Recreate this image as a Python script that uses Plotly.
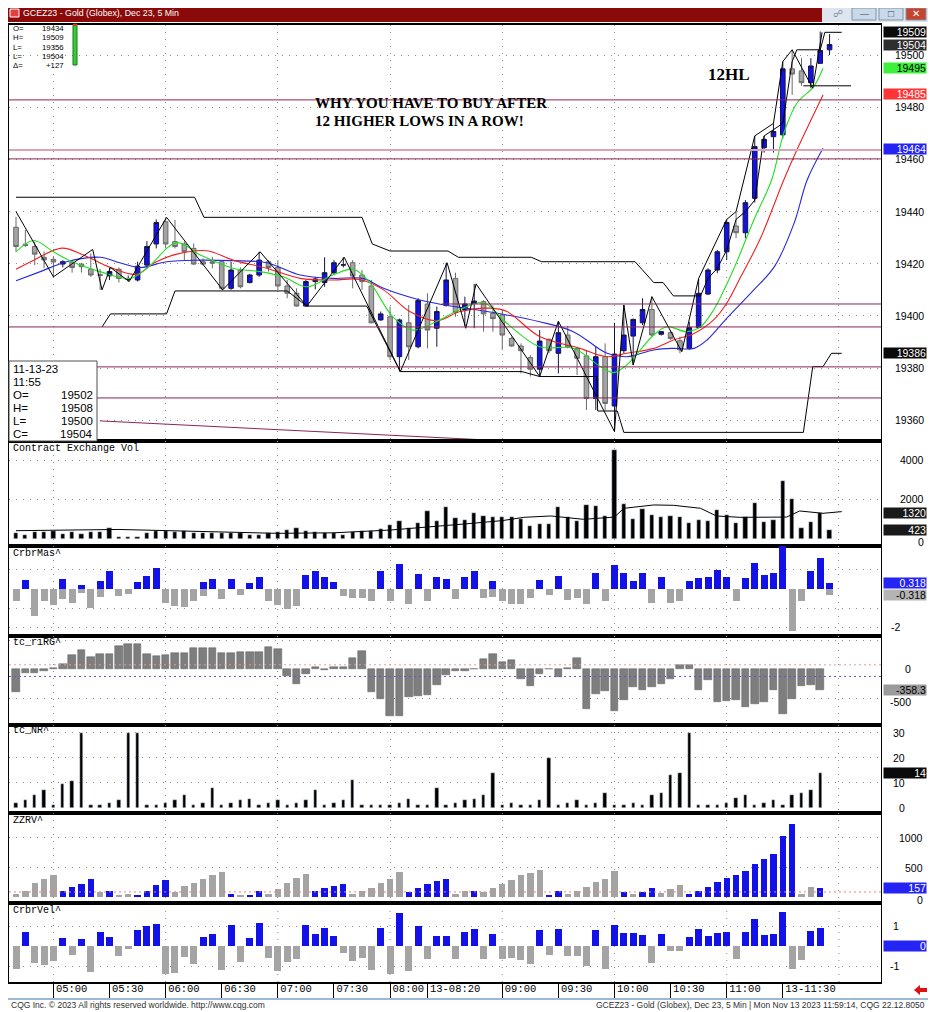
import plotly.graph_objects as go
from plotly.subplots import make_subplots

# GCEZ23 5 min bars, 13 Nov 2023, 04:40 .. 11:55
bar_open = [19434, 19427.5, 19426.6, 19422.5, 19421.7, 19419.9, 19420.6, 19419.9, 19417.9, 19415.8,
            19415.4, 19417.9, 19414, 19413.8, 19419.5, 19427.6, 19436.1, 19428.5, 19427.6, 19425.9,
            19420.8, 19420.8, 19420.8, 19410.6, 19417.6, 19412.8, 19415.7, 19420.8, 19418.6, 19411.5,
            19408.7, 19403.8, 19413.2, 19412.8, 19416.6, 19419.5, 19420.4, 19415.7, 19411.5, 19398.5,
            19399.7, 19384.4, 19397.4, 19388.2, 19404.6, 19395.3, 19404, 19414.4, 19402.3, 19404.8,
            19405.5, 19401, 19400.4, 19391.4, 19388.5, 19384.1, 19379.6, 19391.1, 19385.7, 19392.7,
            19387.6, 19384.7, 19368.4, 19384.4, 19365.5, 19386.7, 19392.3, 19397.4, 19402.5, 19393,
            19393.6, 19390.5, 19387.6, 19395.6, 19408.4, 19417.6, 19424.6, 19434.5, 19431.9, 19445.1,
            19464.5, 19468.7, 19469.4, 19494.7, 19493.9, 19489.4, 19496.8, 19502]
bar_high = [19438, 19433, 19428.5, 19424.7, 19422.7, 19421.4, 19421.4, 19420.4, 19424, 19418,
            19418.6, 19418.6, 19415.5, 19420.8, 19428.7, 19437, 19437.8, 19436.8, 19428.5, 19427.8,
            19422.1, 19422.7, 19421.4, 19420.8, 19418.6, 19416.2, 19424.6, 19421.4, 19421.4, 19413.8,
            19410.6, 19413.8, 19415, 19422.5, 19421.4, 19422.5, 19421.4, 19417.6, 19413.8, 19401.7,
            19403.6, 19399, 19404.2, 19406.8, 19408.7, 19403.6, 19420.4, 19416.6, 19407.4, 19412.3,
            19406.1, 19404, 19402.3, 19392.1, 19389.5, 19385, 19394.6, 19391.4, 19398, 19396.2,
            19388.2, 19387, 19388.2, 19389.5, 19397.4, 19404.2, 19399, 19406.8, 19407.4, 19394.2,
            19394.6, 19392.1, 19397.8, 19414.4, 19418.3, 19425.3, 19437, 19440, 19444.4, 19469,
            19469, 19473.8, 19497.5, 19502, 19498.8, 19498.8, 19509, 19508]
bar_low = [19424.6, 19426.5, 19419.5, 19418.3, 19415, 19418.6, 19416.6, 19416.6, 19415, 19410,
           19413.8, 19412.8, 19413.2, 19413.2, 19418.3, 19425.9, 19425.9, 19425.9, 19421.4, 19419.5,
           19419.5, 19418.3, 19410, 19410, 19410.6, 19412.5, 19415, 19417, 19410, 19406.8,
           19403.6, 19403.6, 19410.2, 19411.2, 19415.7, 19418.6, 19410.6, 19410, 19397.2, 19398.2,
           19383.1, 19378.7, 19383.1, 19387.6, 19387.6, 19388.2, 19403.6, 19399.7, 19396, 19395.3,
           19394, 19394, 19387, 19388.2, 19378, 19376.8, 19376.8, 19385.7, 19378, 19387.6,
           19377.4, 19364, 19364, 19364, 19355.7, 19385.7, 19381.2, 19396.5, 19392.1, 19392.5,
           19390.8, 19385.7, 19387, 19395.3, 19408, 19416.4, 19421.4, 19429.8, 19429.8, 19443.5,
           19462.6, 19462.6, 19468, 19484.7, 19488.2, 19487.3, 19496.8, 19500]
bar_close = [19426.6, 19427, 19423.7, 19421.5, 19420.7, 19420.8, 19418.6, 19418.9, 19415.7, 19415.6,
             19417, 19414.4, 19414.2, 19419.1, 19426.6, 19435.8, 19427.6, 19426.6, 19424.6, 19419.9,
             19419.9, 19420.2, 19410.6, 19417.6, 19411.2, 19415.7, 19421.4, 19418.6, 19411.5, 19408.7,
             19403.8, 19413.2, 19414.2, 19416.6, 19420.4, 19419.6, 19415.3, 19413.2, 19397.4, 19400.8,
             19384.4, 19398.5, 19388.2, 19405.9, 19394.6, 19401.7, 19413.8, 19401.3, 19404.6, 19405.7,
             19400.8, 19399, 19392.7, 19388.5, 19386.7, 19379.6, 19390.4, 19386.7, 19393.6, 19388.2,
             19383.8, 19368.4, 19384.4, 19366.5, 19385.4, 19392.7, 19398.7, 19402.5, 19392.7, 19394,
             19391.4, 19387, 19395.6, 19408.7, 19417.6, 19424.6, 19435.8, 19431.9, 19443.4, 19464.9,
             19467.7, 19470.7, 19494.7, 19492.7, 19489.4, 19495.8, 19501.7, 19504]
bars = list(range(len(bar_open)))

# moving averages, sampled (bar position, value)
ma_green_x = [0, 1.9, 4, 6, 9, 12.2, 14, 17.2, 19.7, 23.2, 26.1, 28.6, 31.1, 33.9, 36.1, 37.9, 40.3,
              42.5, 44.9, 47.5, 50, 52.5, 56, 59.6, 62.5, 63.9, 65.3, 68.2, 69.6, 71.7, 73.2, 74.6,
              76.7, 78.9, 80.8, 82.1, 83.5, 85.3, 86.3]
ma_green = [19424.6, 19428.9, 19424.6, 19420.8, 19417, 19414.4, 19418.3, 19428.1, 19423.4, 19418.3,
            19417, 19415, 19411.2, 19415.7, 19417.9, 19412.5, 19399.7, 19394.6, 19397.8, 19402.5,
            19405.1, 19397.2, 19388.2, 19387.6, 19380.6, 19378.3, 19381.2, 19392.7, 19395.9, 19394,
            19395.9, 19402.3, 19417.6, 19436.8, 19452.1, 19470, 19481.5, 19487.9, 19494.9]
ma_red_x = [0, 1.9, 4.9, 7.2, 10.1, 12.9, 14.7, 17.2, 20.4, 23.2, 26.8, 30.4, 33.9, 36.8, 39.3, 42.1,
            45, 47.5, 50.7, 52.5, 56, 60.3, 63.2, 65.3, 68.2, 70.3, 72.5, 74.6, 76, 77.5, 79.6, 82.1,
            83.5, 86.3]
ma_red = [19417.9, 19421.4, 19426, 19423.4, 19418.6, 19416, 19420.2, 19423.7, 19425, 19421.4, 19418.3,
          19414.4, 19413.8, 19414, 19410, 19401.7, 19398.2, 19401.7, 19403, 19401.7, 19392.1, 19387.6,
          19384.4, 19385.7, 19387.6, 19390.8, 19393.3, 19398.5, 19404.9, 19415, 19429.7, 19452.1,
          19463.6, 19484.7]
ma_blue_x = [0, 2.6, 5.4, 9, 11.1, 13.3, 16.1, 19.7, 23.2, 26.8, 30.4, 33.9, 37.1, 39.3, 42.9, 45.5,
             48.8, 52.5, 56, 59.6, 63.2, 65.3, 68.2, 70.3, 72.5, 73.9, 76, 78.9, 81.1, 83.2, 84.6, 86.3]
ma_blue = [19413.5, 19417, 19420.8, 19422.5, 19420.4, 19418.6, 19420.8, 19421.4, 19421.2, 19420.4,
           19415.7, 19414.4, 19414.4, 19410.6, 19406.4, 19404.4, 19402.6, 19400.4, 19397.8, 19394,
           19385.7, 19384.4, 19387, 19387.6, 19387.6, 19390.8, 19399.1, 19410, 19418.9, 19435.5,
           19452.1, 19464.3]

# channel + swing lines
chan_up_x = [0, 19.1, 20.1, 37, 38.1, 40, 46.2, 47.3, 55.1, 56.2, 66.2, 68.2, 69.2, 70.3, 73.2, 74, 75,
             76, 77, 78, 79, 80, 82, 83, 83.5, 86, 86.5, 88.3]
chan_up = [19445.5, 19445.5, 19437.8, 19437.8, 19427.6, 19424.9, 19424.9, 19422.5, 19422.5, 19420.8,
           19420.8, 19412.8, 19412.8, 19407.7, 19407.7, 19414.4, 19418.3, 19425.3, 19437, 19440,
           19444.4, 19469, 19473.8, 19497.5, 19502, 19502, 19508.7, 19508.7]
chan_dn_x = [9.2, 10.1, 16.1, 17, 29, 31.1, 37.5, 41.1, 54.1, 56, 62.1, 62.2, 64.3, 65, 84.2, 85.2,
             86.3, 87.2, 88.3]
chan_dn = [19395.8, 19400.8, 19400.8, 19409.6, 19409.6, 19403.8, 19403.8, 19378.7, 19378.7, 19376.8,
           19376.8, 19363.6, 19363.6, 19355.4, 19355.4, 19380.6, 19380.6, 19385.7, 19385.7]
swing_x = [0, 4, 8.2, 9.2, 10.1, 12.1, 16.1, 22.1, 26.1, 31.1, 35.1, 41.1, 46.1, 48.1, 49.2, 56, 58,
           64, 65, 66, 68, 71.2, 73, 76, 77, 79, 81, 82, 83, 85.2, 86.2]
swing = [19440, 19415, 19425.5, 19410, 19418.6, 19413.2, 19437.8, 19410, 19424.6, 19403.8, 19422.5,
         19378.7, 19420.4, 19395.3, 19412.3, 19376.8, 19398, 19355.7, 19404.2, 19381.2, 19407.4,
         19386.3, 19414.4, 19437, 19440, 19469, 19473.8, 19497.5, 19502, 19487.3, 19508.7]
box_low_x = [84.2, 89.3]
box_low = [19488.2, 19488.2]
trend_x = [9, 52]
trend = [19359.8, 19352.2]
levels = [19482.8, 19460.2, 19395.8, 19380.5, 19368.6]
level_late = 19404.6
level_pink = 19463.6

volume = [272, 190, 360, 360, 410, 230, 360, 220, 360, 360,
          520, 100, 100, 100, 300, 400, 400, 330, 400, 270,
          300, 280, 300, 270, 270, 190, 190, 270, 360, 450,
          530, 410, 360, 270, 270, 190, 360, 410, 410, 480,
          700, 900, 530, 780, 1410, 900, 1590, 1040, 950, 1290,
          1160, 1090, 1090, 1090, 1000, 650, 750, 750, 1630, 1090,
          920, 1730, 1670, 1160, 4490, 1770, 990, 1510, 1210, 1120,
          1160, 1090, 820, 950, 900, 1460, 1210, 820, 1090, 1840,
          870, 950, 2960, 2020, 530, 870, 1290, 423]
vol_ma_x = [0, 11, 28, 34, 40, 44.6, 48, 52, 54.3, 57.2, 60.7, 64, 65, 68.2, 70.3, 73.2, 74.9, 77.4,
            81, 82.4, 83.8, 86.3, 88.3]
vol_ma = [408, 470, 272, 300, 440, 600, 750, 920, 1088, 1156, 986, 1100, 1547, 1717, 1700, 1547, 1156,
          1088, 1088, 1100, 1411, 1292, 1377]

mas_up = [0, .47, 0, 0, 0, .52, 0, .21, 0, .42,
          .92, 0, 0, .35, .7, 1.1, 0, 0, 0, 0,
          .38, .52, 0, .52, 0, .3, .64, 0, 0, 0,
          0, .73, .94, .63, .35, 0, 0, 0, 0, .96,
          0, 1.29, 0, .77, 0, .61, .5, 0, .64, .94,
          0, .42, 0, 0, 0, 0, .47, 0, .68, 0,
          0, 0, .82, 0, 1.25, .85, .42, .82, 0, .63,
          0, 0, .42, .59, .64, .99, .63, 0, .59, 1.34,
          .73, .82, 2.3, 0, 0, .94, 1.6, .318]
mas_dn = [-.6, 0, -1.43, -.62, -.83, -.52, -.73, -.19, -1.0, -.4,
          0, -.38, -.26, 0, 0, 0, -.73, -.87, -.94, -.63,
          -.38, 0, -.5, 0, -.3, 0, 0, -.61, -.85, -1.05,
          -.87, 0, 0, 0, 0, -.38, -.45, -.45, -.63, 0,
          -.63, 0, -.8, 0, -.61, 0, 0, -.5, 0, 0,
          -.49, -.4, -.61, -.78, -.8, -.49, 0, -.31, 0, -.57,
          -.45, -.78, 0, -.61, 0, 0, 0, 0, -.75, 0,
          -.75, -.61, 0, 0, 0, 0, 0, -.61, 0, 0,
          0, 0, 0, -2.17, -.61, 0, 0, -.318]

rirg = [-385, -58, -58, -29, 29, 86, 242, 334, 219, 259,
        270, 403, 431, 431, 270, 230, 242, 288, 276, 362,
        362, 362, 276, 276, 305, 305, 305, 391, 357, -115,
        -247, -86, 46, -12, 46, 46, 190, 316, -391, -506,
        -805, -794, -477, -460, -431, -270, -90, -25, -25, 12,
        184, 270, 132, 167, -161, -288, -69, 6, -132, 29,
        201, -679, -420, -374, -719, -529, -300, -357, -305, -250,
        -170, 69, 75, -345, -173, -564, -546, -529, -644, -587,
        -564, -357, -765, -506, -276, -270, -358.3, None]

narrow_range = [2, 3, 5, 7, 1, 9.5, 10.7, 30, 1, 1,
                2, 3, 30, 30, 1, 1, 2, 3, 5, 1,
                2, 8, 1, 2, 3, 3.5, 1, 2, 3, 1,
                2, 3, 7, 1, 2, 3, 11, 1, 1, 1,
                1, 2, 3.5, 1, 1, 8, 1, 2, 3, 3.5,
                5, 14, 1, 2, 1, 1, 3, 20, 1, 2,
                3, 1, 2, 6, 1, 1, 2, 1, 5, 6,
                13, 14, 30, 1, 1, 1, 2, 4, 5, 1,
                2, 3, 1, 5, 6, 7, 14, None]

zzrv = [62, 100, 246, 302, 381, 106, 174, 230, 314, 90,
        100, 45, 62, 45, 106, 213, 286, 90, 190, 246,
        314, 370, 420, 56, 45, 45, 100, 62, 134, 246,
        325, 392, 100, 157, 190, 230, 56, 100, 157, 246,
        302, 426, 90, 157, 218, 280, 314, 56, 100, 100,
        90, 162, 224, 286, 370, 414, 454, 39, 100, 62,
        100, 174, 258, 314, 437, 90, 56, 90, 151, 73,
        134, 202, 56, 100, 168, 258, 325, 381, 442, 566,
        638, 722, 1030, 1238, 62, 168, 157, None]
zzrv_up = [0, 0, 0, 0, 0, 1, 1, 1, 1, 0,
           1, 0, 0, 1, 1, 1, 1, 0, 0, 0,
           0, 0, 0, 1, 0, 1, 1, 0, 0, 0,
           0, 0, 1, 1, 1, 1, 0, 0, 0, 0,
           0, 0, 1, 1, 1, 1, 1, 0, 0, 1,
           0, 0, 0, 0, 0, 0, 0, 1, 1, 0,
           0, 0, 0, 0, 0, 1, 0, 1, 1, 0,
           0, 0, 1, 1, 1, 1, 1, 1, 1, 1,
           1, 1, 1, 1, 0, 0, 1, 0]

velocity = [-1.13, 0.7, -0.85, -0.93, -0.77, 0.4, -0.47, 0.37, -1.3, 0.7,
            0.45, -0.5, -0.17, 0.82, 1.0, 1.1, -1.38, -1.35, -0.55, -0.88,
            0.45, 0.62, -1.22, 1.03, -0.8, 0.42, 1.15, -0.58, -1.25, -0.8,
            -0.67, 1.03, 0.6, 0.9, 0.5, -0.33, -0.75, -0.6, -1.18, 0.92,
            -1.42, 1.65, -1.27, 1.02, -0.67, 0.5, 0.5, -0.67, 0.7, 0.83,
            -0.67, 0.58, -0.67, -0.58, -0.72, -0.88, 0.82, -0.47, 0.85, -0.52,
            -0.5, -0.98, 0.82, -1.17, 1.03, 0.65, 0.65, 0.53, -0.83, 0.58,
            -0.27, -0.25, 0.43, 0.85, 0.5, 0.65, 0.72, -0.63, 0.72, 1.37,
            0.55, 0.6, 1.7, -1.13, -0.68, 0.75, 0.92, 0]

time_ticks = [4, 10, 16, 22, 28, 34, 40, 44, 52, 58, 64, 70, 76, 82]
time_labels = ["05:00", "05:30", "06:00", "06:30", "07:00", "07:30", "08:00", "13-08:20",
               "09:00", "09:30", "10:00", "10:30", "11:00", "13-11:30"]
hour_bars = [4, 16, 28, 40, 52, 64, 76, 88]

BLUE = "#1212E8"
GRAY = "#A4A4A4"
MAROON = "#8A2454"
GRID = "#8C8C8C"
DOTS = "1px,6px"
SANS = "Liberation Sans"
MONO = "Liberation Mono"

fig = make_subplots(rows=7, cols=1, shared_xaxes=True, vertical_spacing=0,
                    row_heights=[416, 105, 90, 89, 88, 90, 79])

fig.add_trace(go.Candlestick(x=bars, open=bar_open, high=bar_high, low=bar_low, close=bar_close,
                             increasing=dict(fillcolor=BLUE, line=dict(color="#151540", width=1)),
                             decreasing=dict(fillcolor=GRAY, line=dict(color="#6A6A6A", width=1)),
                             whiskerwidth=0, hoverinfo="skip"), row=1, col=1)
for xs, ys, col in [(ma_blue_x, ma_blue, "#2828E0"), (ma_red_x, ma_red, "#F02020"),
                    (ma_green_x, ma_green, "#20E020")]:
    fig.add_trace(go.Scatter(x=xs, y=ys, mode="lines", line=dict(color=col, width=1.1, shape="spline"),
                             hoverinfo="skip"), row=1, col=1)
for xs, ys in [(chan_up_x, chan_up), (chan_dn_x, chan_dn), (swing_x, swing), (box_low_x, box_low)]:
    fig.add_trace(go.Scatter(x=xs, y=ys, mode="lines", line=dict(color="black", width=1),
                             hoverinfo="skip"), row=1, col=1)
fig.add_trace(go.Scatter(x=trend_x, y=trend, mode="lines", line=dict(color=MAROON, width=1),
                         hoverinfo="skip"), row=1, col=1)

# volume
fig.add_trace(go.Bar(x=bars, y=volume, marker_color="black", width=0.45), row=2, col=1)
fig.add_trace(go.Scatter(x=vol_ma_x, y=vol_ma, mode="lines", line=dict(color="black", width=1),
                         hoverinfo="skip"), row=2, col=1)
# CrbrMas
fig.add_trace(go.Bar(x=bars, y=mas_dn, marker=dict(color=GRAY, line=dict(width=0)), width=0.75), row=3, col=1)
fig.add_trace(go.Bar(x=bars, y=mas_up, marker=dict(color=BLUE, line=dict(width=0)), width=0.75), row=3, col=1)
# tc_riRG
fig.add_trace(go.Bar(x=bars, y=rirg, marker=dict(color="#7E7E7E", line=dict(color="#5A5A5A", width=0.5)),
                     width=0.8), row=4, col=1)
# tc_NR
fig.add_trace(go.Bar(x=bars, y=narrow_range, marker_color="black", width=0.36), row=5, col=1)
# ZZRV
fig.add_trace(go.Bar(x=bars, y=zzrv, marker=dict(color=[BLUE if u else GRAY for u in zzrv_up],
                                                 line=dict(width=0)), width=0.68), row=6, col=1)
# CrbrVel
fig.add_trace(go.Bar(x=bars, y=velocity, marker=dict(color=[BLUE if v > 0 else GRAY for v in velocity],
                                                     line=dict(width=0)), width=0.75), row=7, col=1)

panels = [  # range, grid values, tick labels, label right edge (px)
    ([19352.1, 19511.5], [19360, 19380, 19400, 19420, 19440, 19460, 19480, 19500],
     [19360, 19380, 19400, 19420, 19440, 19460, 19480, 19500], 926),
    ([-372, 4973], [2000, 4000], [0, 2000, 4000], 926),
    ([-2.45, 2.24], [-2, -1, 1], [-2], 902),
    ([-955, 576], [500, -500], [0, -500], 913),
    ([-2.1, 33.1], [10, 20, 30], [0, 10, 20, 30], 907),
    ([-96, 1416], [500, 1000], [0, 500, 1000], 925),
    ([-1.8, 2.15], [-1, 1], [-1, 1], 901),
]
label_nudge = {(2, 0): -3, (4, -500): -3, (6, 0): -3}

# the page puts the figure 8 px in from the window corner; positions below are window pixels


def px(x):
    return (x - 9) / 872


def py(y):
    return (982 - y) / 957


annotations = []
for r, (rng, grid, labels, right) in enumerate(panels, start=1):
    fig.update_yaxes(range=rng, tickmode="array", tickvals=grid, showticklabels=False, ticks="",
                     showgrid=True, gridcolor=GRID, griddash=DOTS, gridwidth=1, zeroline=False,
                     showline=True, mirror=True, linecolor="black", linewidth=1, side="right",
                     fixedrange=True, row=r, col=1)
    yref = "y" if r == 1 else "y%d" % r
    for v in labels:
        annotations.append(dict(xref="paper", x=px(right), xanchor="right", yref=yref, y=v,
                                yanchor="middle", text="%g" % v, showarrow=False,
                                yshift=label_nudge.get((r, v), 0),
                                font=dict(family=SANS, size=10.5, color="black")))

for r in range(1, 7):
    fig.update_xaxes(range=[-0.75, 92.5], tickmode="array", tickvals=hour_bars, showticklabels=False,
                     ticks="", showgrid=True, gridcolor=GRID, griddash=DOTS, zeroline=False,
                     showline=True, mirror=True, linecolor="black", linewidth=1.5, row=r, col=1)
fig.update_xaxes(range=[-0.75, 92.5], tickmode="array", tickvals=time_ticks, ticktext=time_labels,
                 ticks="outside", ticklen=14, tickwidth=1, tickcolor="black", tickangle=0,
                 ticklabelposition="outside right", ticklabelstandoff=-5, ticklabelshift=1,
                 tickfont=dict(family=MONO, size=10.5, color="black"), showgrid=False, zeroline=False,
                 showline=True, mirror=True, linecolor="black", linewidth=2, row=7, col=1)

shapes = []
for h in hour_bars:
    shapes.append(dict(type="line", xref="x7", yref="y7 domain", x0=h, x1=h, y0=0, y1=1,
                       line=dict(color=GRID, width=1, dash=DOTS), layer="below"))
for lv in levels:
    shapes.append(dict(type="line", xref="x domain", yref="y", x0=0, x1=1, y0=lv, y1=lv,
                       line=dict(color=MAROON, width=1)))
shapes.append(dict(type="line", xref="x domain", yref="y", x0=0, x1=1, y0=level_pink, y1=level_pink,
                   line=dict(color="#D7A4B8", width=2)))
shapes.append(dict(type="line", xref="x", yref="y", x0=45.5, x1=92.5, y0=level_late, y1=level_late,
                   line=dict(color=MAROON, width=1)))
shapes.append(dict(type="line", xref="x4 domain", yref="y4", x0=0, x1=1, y0=80, y1=80,
                   line=dict(color="#E89A9A", width=1, dash="2px,3px")))
shapes.append(dict(type="line", xref="x4 domain", yref="y4", x0=0, x1=1, y0=-120, y1=-120,
                   line=dict(color="#5A5AD0", width=1, dash="2px,3px")))
shapes.append(dict(type="line", xref="x6 domain", yref="y6", x0=0, x1=1, y0=90, y1=90,
                   line=dict(color="#F08080", width=1, dash="2px,3px")))

# window chrome
chrome = [
    (0, 0, 936, 5, "#D6E2EE"), (0, 0, 8, 1012, "#C9D7E6"), (928, 0, 936, 1000, "#BCD4EC"),
    (822, 5, 928, 22, "#DDE6EF"), (8, 5, 822, 22, "#8A0A0A"),
    (0, 998, 936, 1000, "#9DB9D6"),
]
for x0, y0, x1, y1, col in chrome:
    shapes.append(dict(type="rect", xref="paper", yref="paper", x0=px(x0), x1=px(x1), y0=py(y0), y1=py(y1),
                       fillcolor=col, line=dict(width=0), layer="above"))
for x0, x1, col in [(852, 876, "#C9D9EA"), (879, 903, "#C9D9EA"), (906, 926, "#C8432E")]:
    shapes.append(dict(type="rect", xref="paper", yref="paper", x0=px(x0), x1=px(x1), y0=py(8), y1=py(20),
                       fillcolor=col, line=dict(color="#7F93AA", width=1), layer="above"))
shapes.append(dict(type="rect", xref="paper", yref="paper", x0=px(10), x1=px(19), y0=py(9), y1=py(17),
                   fillcolor="#E04040", line=dict(color="white", width=1), layer="above"))
shapes.append(dict(type="rect", xref="paper", yref="paper", x0=px(73), x1=px(77), y0=py(24), y1=py(65),
                   fillcolor="#2ED12E", line=dict(color="#207020", width=1), layer="above"))
shapes.append(dict(type="rect", xref="paper", yref="paper", x0=px(73), x1=px(77), y0=py(24), y1=py(26),
                   fillcolor="#E03030", line=dict(width=0), layer="above"))
shapes.append(dict(type="rect", xref="paper", yref="paper", x0=px(9), x1=px(97), y0=py(361), y1=py(441),
                   fillcolor="white", line=dict(color="#505050", width=1), layer="above"))
shapes.append(dict(type="path", xref="paper", yref="paper",
                   path="M %f %f L %f %f L %f %f L %f %f L %f %f L %f %f L %f %f Z" % (
                       px(914), py(990), px(920), py(985), px(920), py(988), px(927), py(988),
                       px(927), py(992), px(920), py(992), px(920), py(995)),
                   fillcolor="#E01010", line=dict(width=0), layer="above"))


def text(x, y, s, size=10, family=SANS, color="black", xanchor="left", bold=False):
    if bold:
        s = "<b>%s</b>" % s
    annotations.append(dict(xref="paper", yref="paper", x=px(x), y=py(y), xanchor=xanchor,
                            yanchor="middle", text=s, showarrow=False,
                            font=dict(family=family, size=size, color=color)))


text(21, 13.5, "GCEZ23 - Gold (Globex), Dec 23, 5 Min", size=8.8, color="white")
text(864, 14, "&#8212;", size=9, color="#33475E", xanchor="center")
text(891, 14, "&#9633;", size=10, color="#33475E", xanchor="center")
text(916, 14, "&#10005;", size=10, color="white", xanchor="center")
text(838, 14, "&#9741;", size=10, color="#8090A0", xanchor="center")

session_labels = ["O=", "H=", "L=", "L=", "&#916;="]
session_values = ["19434", "19509", "19356", "19504", "+127"]
for i in range(len(session_labels)):
    text(11, 28.5 + i * 9.3, session_labels[i], size=7.8)
    text(66, 28.5 + i * 9.3, session_values[i], size=7.8, xanchor="right")

info_labels = ["11-13-23", "11:55", "O=", "H=", "L=", "C="]
info_values = ["", "", "19502", "19508", "19500", "19504"]
for i in range(len(info_labels)):
    text(11, 369 + i * 13, info_labels[i], size=11.5)
    if info_values[i]:
        text(95, 369 + i * 13, info_values[i], size=11.5, xanchor="right")

text(313, 103, "WHY YOU HAVE TO BUY AFTER", size=15, family="Liberation Serif", bold=True)
text(313, 121, "12 HIGHER LOWS IN A ROW!", size=15, family="Liberation Serif", bold=True)
text(706, 75, "12HL", size=17, family="Liberation Serif", bold=True)

for y, name in [(448, "Contract Exchange Vol"), (553, "CrbrMas^"), (642, "tc_riRG^"), (731, "tc_NR^"),
                (820, "ZZRV^"), (910, "CrbrVel^")]:
    text(11, y, name, size=10, family=MONO)

text(9, 1005, "CQG Inc. &#169; 2023 All rights reserved worldwide. http://www.cqg.com", size=8.5,
     color="#303030")
text(927, 1005, "GCEZ23 - Gold (Globex), Dec 23, 5 Min | Mon Nov 13 2023 11:59:14, CQG 22.12.8050",
     size=8.5, color="#303030", xanchor="right")

value_boxes = [
    ("y", 19509, "19509", "#0A0A0A", "white"), ("y", 19504, "19504", "#2E2E2E", "white"),
    ("y", 19495, "19495", "#3CF03C", "black"), ("y", 19485, "19485", "#FF3434", "white"),
    ("y", 19464, "19464", "#2424F4", "white"), ("y", 19386, "19386", "#0A0A0A", "white"),
    ("y2", 1320, "1320", "#1A1A1A", "white"), ("y2", 423, "423", "#1A1A1A", "white"),
    ("y3", 0.318, "0.318", "#2424F4", "white"), ("y3", -0.318, "-0.318", "#B4B4B4", "black"),
    ("y4", -358.3, "-358.3", "#9A9A9A", "black"), ("y5", 14, "14", "#0A0A0A", "white"),
    ("y6", 157, "157", "#2424F4", "white"), ("y7", 0, "0", "#2424F4", "white"),
]
for yref, v, s, bg, fg in value_boxes:
    annotations.append(dict(xref="paper", x=px(927), xanchor="right", yref=yref, y=v, yanchor="middle",
                            text=s, showarrow=False, bgcolor=bg, width=42, height=10, align="right",
                            borderpad=0, font=dict(family=SANS, size=10.5, color=fg)))

fig.update_layout(width=928, height=1004, margin=dict(l=1, r=55, t=17, b=30),
                  paper_bgcolor="white", plot_bgcolor="white", showlegend=False,
                  barmode="overlay", bargap=0, shapes=shapes, annotations=annotations,
                  xaxis_rangeslider_visible=False, hovermode=False)

fig.write_html("out.html")
